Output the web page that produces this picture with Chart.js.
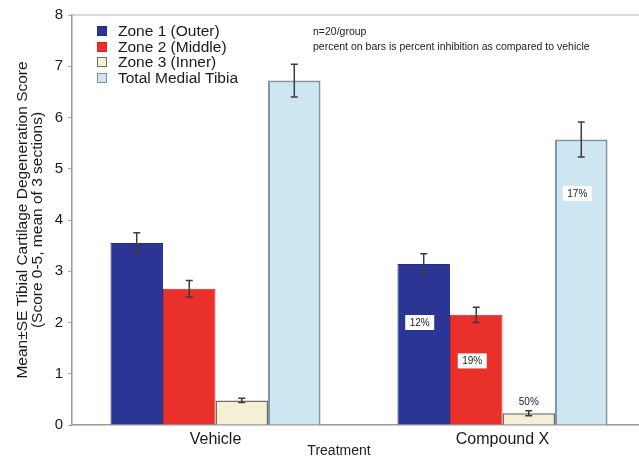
<!DOCTYPE html>
<html>
<head>
<meta charset="utf-8">
<script src="https://cdn.jsdelivr.net/npm/chart.js@4/dist/chart.umd.min.js"></script>
<style>
  html, body { margin: 0; padding: 0; background: #fff; overflow: hidden; width: 639px; height: 457px; }
  canvas { display: block; }
</style>
</head>
<body>
<canvas id="c" width="660" height="457"></canvas>
<script>
// Treatment groups and series
const categories = ['Vehicle', 'Compound X'];
const seriesNames = ['Zone 1 (Outer)', 'Zone 2 (Middle)', 'Zone 3 (Inner)', 'Total Medial Tibia'];

// Mean scores per group
const zone1 = [3.55, 3.14];
const zone2 = [2.66, 2.15];
const zone3 = [0.48, 0.23];
const total = [6.72, 5.57];

// Standard errors per group
const zone1SE = [0.20, 0.20];
const zone2SE = [0.16, 0.15];
const zone3SE = [0.04, 0.05];
const totalSE = [0.32, 0.34];

// Percent inhibition of Compound X vs Vehicle, one per series
const inhibition = ['12%', '19%', '50%', '17%'];

const yTicks = [0, 1, 2, 3, 4, 5, 6, 7, 8];

const FONT = 'Arial, "Liberation Sans", Helvetica, sans-serif';
const fills = ['#2b3595', '#e9302a', '#f4f0d6', '#cde6f2'];
const edges = ['#252d80', '#c92a25', '#6f6f66', '#7d95a3'];
const edgeWidths = [1, 1, 1.5, 2];

const seriesValues = [zone1, zone2, zone3, total];
const seriesSE = [zone1SE, zone2SE, zone3SE, totalSE];

const datasets = seriesNames.map((name, i) => ({
  label: name,
  data: seriesValues[i],
  se: seriesSE[i],
  backgroundColor: fills[i],
  borderColor: edges[i],
  borderWidth: edgeWidths[i],
  borderSkipped: 'bottom',
  barPercentage: 1,
  categoryPercentage: 0.732
}));

const overlay = {
  id: 'overlay',
  afterDatasetsDraw(chart) {
    const ctx = chart.ctx;
    const y = chart.scales.y;
    const area = chart.chartArea;
    ctx.save();

    // top frame line
    ctx.strokeStyle = '#b5b5b5';
    ctx.lineWidth = 1.2;
    ctx.beginPath();
    ctx.moveTo(area.left, area.top);
    ctx.lineTo(chart.width, area.top);
    ctx.stroke();

    // error bars
    chart.data.datasets.forEach((ds, di) => {
      const meta = chart.getDatasetMeta(di);
      meta.data.forEach((bar, j) => {
        const v = ds.data[j], e = ds.se[j];
        const yHi = y.getPixelForValue(v + e);
        const yLo = y.getPixelForValue(v - e);
        ctx.strokeStyle = '#3c3c3c';
        ctx.lineWidth = 1.5;
        ctx.beginPath();
        ctx.moveTo(bar.x, yHi); ctx.lineTo(bar.x, yLo);
        ctx.moveTo(bar.x - 3.5, yHi); ctx.lineTo(bar.x + 3.5, yHi);
        ctx.moveTo(bar.x - 3.5, yLo); ctx.lineTo(bar.x + 3.5, yLo);
        ctx.stroke();
      });
    });

    // percent inhibition labels on the Compound X bars
    const labelAt = [2.0, 1.25, null, 4.52];
    ctx.font = '10px ' + FONT;
    ctx.textAlign = 'center';
    ctx.textBaseline = 'middle';
    chart.data.datasets.forEach((ds, di) => {
      const bar = chart.getDatasetMeta(di).data[1];
      const txt = inhibition[di];
      if (labelAt[di] === null) {
        const top = y.getPixelForValue(ds.data[1] + ds.se[1]);
        ctx.fillStyle = '#222';
        ctx.fillText(txt, bar.x, top - 8);
        return;
      }
      const cy = y.getPixelForValue(labelAt[di]);
      const w = 29, h = 15;
      ctx.fillStyle = '#ffffff';
      ctx.fillRect(bar.x - 4 - w / 2, cy - h / 2, w, h);
      ctx.fillStyle = '#222';
      ctx.fillText(txt, bar.x - 4, cy + 0.5);
    });

    // legend
    ctx.textAlign = 'left';
    ctx.font = '15.5px ' + FONT;
    const rows = [31, 47, 62, 78];
    chart.data.datasets.forEach((ds, di) => {
      const cy = rows[di];
      ctx.fillStyle = ds.backgroundColor;
      ctx.fillRect(97, cy - 5, 10, 10);
      ctx.strokeStyle = ds.borderColor;
      ctx.lineWidth = 1;
      ctx.strokeRect(97.5, cy - 4.5, 9, 9);
      ctx.fillStyle = '#1a1a1a';
      ctx.fillText(ds.label, 118, cy + 1);
    });

    // notes
    ctx.font = '10.5px ' + FONT;
    ctx.fillStyle = '#222';
    ctx.fillText('n=20/group', 313, 32);
    ctx.fillText('percent on bars is percent inhibition as compared to vehicle', 313, 47);

    // x axis title
    ctx.font = '14px ' + FONT;
    ctx.textAlign = 'center';
    ctx.fillText('Treatment', 339, 451);

    ctx.restore();
  }
};

new Chart(document.getElementById('c'), {
  type: 'bar',
  data: { labels: categories, datasets },
  options: {
    responsive: false,
    animation: false,
    devicePixelRatio: 1,
    layout: { padding: { top: 15, right: 14, left: 0, bottom: 0 } },
    plugins: { legend: { display: false }, tooltip: { enabled: false } },
    scales: {
      x: {
        offset: true,
        grid: { display: false },
        border: { color: '#9a9a9a', width: 1.5 },
        ticks: { font: { size: 16, family: FONT }, color: '#1a1a1a', padding: -3 },
        afterFit(s) { s.height = 32; }
      },
      y: {
        min: 0,
        max: 8,
        afterBuildTicks(s) { s.ticks = yTicks.map(v => ({ value: v })); },
        grid: { display: true, drawOnChartArea: false, drawTicks: true, tickLength: 4, color: '#a8a8a8' },
        border: { color: '#9a9a9a', width: 1.5 },
        ticks: { font: { size: 15, family: FONT }, color: '#1a1a1a', padding: 5 },
        title: {
          display: true,
          text: ['Mean\u00b1SE Tibial Cartilage Degeneration Score', '(Score 0-5, mean of 3 sections)'],
          font: { size: 15.5, family: FONT, lineHeight: 0.97 },
          color: '#1a1a1a',
          padding: { top: 15, bottom: 0 }
        },
        afterFit(s) { s.width = 72; }
      }
    }
  },
  plugins: [overlay]
});
</script>
</body>
</html>
